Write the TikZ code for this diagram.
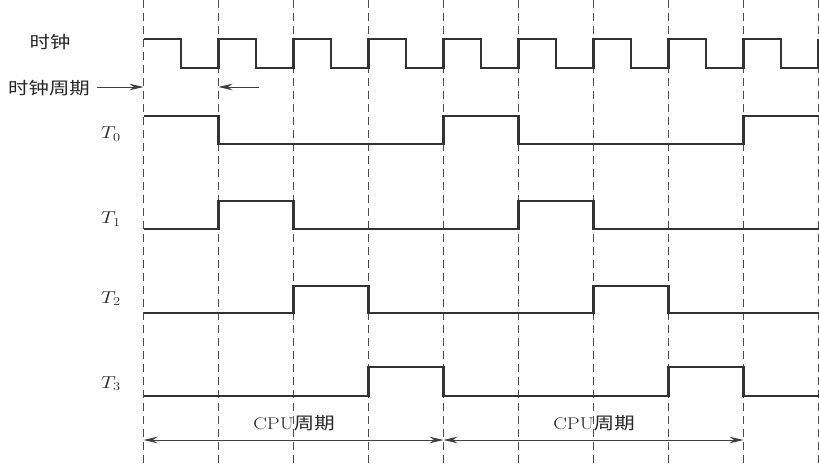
\documentclass[tikz,border=0pt]{standalone}
\usepackage{fontspec}
\usepackage{graphicx}
\newfontfamily\cjk{Noto Sans CJK SC}
\usetikzlibrary{arrows.meta}
\newcommand{\sx}[1]{\scalebox{1.2}[1]{#1}}
\begin{document}
\begin{tikzpicture}[x=1pt,y=-1pt,
  sig/.style={line width=2.1pt, draw=black!80, line join=miter},
  gridline/.style={draw=black!70, line width=1pt, dash pattern=on 8pt off 5pt},
  dim/.style={draw=black!75, line width=0.9pt},
  lbl/.style={font=\fontsize{17}{19}\selectfont, text=black!85, inner sep=0pt}]
\useasboundingbox (0,0) rectangle (819,465);
% dashed grid
\foreach \i in {0,...,9} \draw[gridline] (143.5+75*\i,0) -- (143.5+75*\i,465);
% clock
\draw[sig] (143.5,39) \foreach \k in {0,...,8}{ -- ++(37.5,0) -- ++(0,29) -- ++(37.5,0) -- ++(0,-29)};
% T0..T3
\draw[sig] (143.5,116) -| (218.5,144) -| (443.5,116) -| (518.5,144) -| (743.5,116) -- (819,116);
\draw[sig] (143.5,229) -| (218.5,201) -| (293.5,229) -| (518.5,201) -| (593.5,229) -- (819,229);
\draw[sig] (143.5,313) -| (293.5,286) -| (368.5,313) -| (593.5,286) -| (668.5,313) -- (819,313);
\draw[sig] (143.5,396) -| (368.5,367) -| (443.5,396) -| (668.5,367) -| (743.5,396) -- (819,396);
% labels
\node[lbl] (lclk) at (50,42) {\sx{\cjk 时钟}};
\node[lbl] (lper) at (49,88) {\sx{\cjk 时钟周期}};
\node[lbl, anchor=base west] (lT0) at (101,139) {\sx{$T_0$}};
\node[lbl, anchor=base west] (lT1) at (101,224) {\sx{$T_1$}};
\node[lbl, anchor=base west] (lT2) at (101,303) {\sx{$T_2$}};
\node[lbl, anchor=base west] (lT3) at (101,388) {\sx{$T_3$}};
% clock period arrows
\coordinate (pa) at (97,87);
\coordinate (pb) at (143.5,87);
\coordinate (pc) at (259,87);
\coordinate (pd) at (218.5,87);
\draw[dim, -{Stealth[length=14pt,width=6.5pt]}] (pa) -- (pb);
\draw[dim, -{Stealth[length=14pt,width=6.5pt]}] (pc) -- (pd);
% CPU cycles
\coordinate (c0) at (143.5,440);
\coordinate (c1) at (443.5,440);
\coordinate (c2) at (743.5,440);
\draw[dim, {Stealth[length=14pt,width=6.5pt]}-{Stealth[length=14pt,width=6.5pt]}] (c0) -- (c1);
\draw[dim, {Stealth[length=14pt,width=6.5pt]}-{Stealth[length=14pt,width=6.5pt]}] (c1) -- (c2);
\node[lbl] (cpu1) at (294,423) {\sx{CPU{\cjk 周期}}};
\node[lbl] (cpu2) at (594,423) {\sx{CPU{\cjk 周期}}};
\end{tikzpicture}
\end{document}
